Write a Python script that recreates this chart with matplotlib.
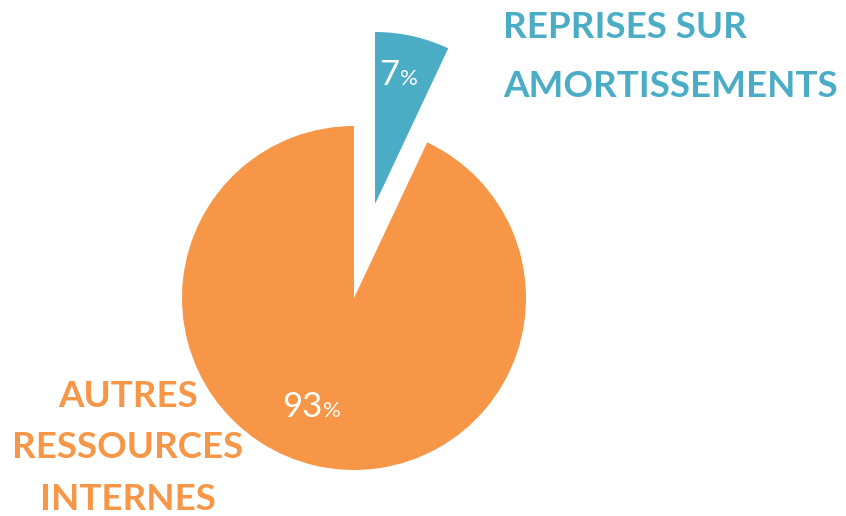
import matplotlib
matplotlib.use("Agg")
from matplotlib import pyplot as plt

# data
categories = ["REPRISES SUR\nAMORTISSEMENTS", "AUTRES\nRESSOURCES\nINTERNES"]
shares = [7, 93]
colors = ["#4BACC6", "#F79646"]

W, H = 846, 516
cx, cy, r = 354, 298, 172  # pie centre / radius in pixels


def px(x, y):
    # pixel -> data coords
    return (x - cx) / r, (cy - y) / r


fig = plt.figure(figsize=(W / 100, H / 100), dpi=100)
ax = fig.add_axes([0, 0, 1, 1])

ax.pie(shares, colors=colors, startangle=90, counterclock=False,
       explode=[0.56, 0], radius=1, center=(0, 0), frame=True,
       wedgeprops=dict(linewidth=0))
ax.set_xlim(-cx / r, (W - cx) / r)
ax.set_ylim((cy - H) / r, cy / r)
ax.set_aspect("auto")
ax.axis("off")

# percent labels (number + smaller % sign)
pct_anchor = [px(399, 85), px(322, 417)]
for val, (x, y) in zip(shares, pct_anchor):
    ax.text(x, y, f"{val}", color="white", fontsize=25, family="Lato",
            ha="right", va="baseline")
    ax.text(x + 0.005, y, "%", color="white", fontsize=16, family="Lato",
            ha="left", va="baseline")

# category labels, one line at a time
label_x = [503, 128]
label_align = ["left", "center"]
label_y0 = [38, 407]
label_step = [59, 51.5]
for cat, col, lx, ha, y0, step in zip(categories, colors, label_x,
                                       label_align, label_y0, label_step):
    for i, line in enumerate(cat.split("\n")):
        ax.text(*px(lx, y0 + i * step), line, color=col, fontsize=26.5,
                family="Lato", weight="bold", ha=ha, va="baseline",
                zorder=5, clip_on=False)

fig.savefig("out.png", dpi=100)
